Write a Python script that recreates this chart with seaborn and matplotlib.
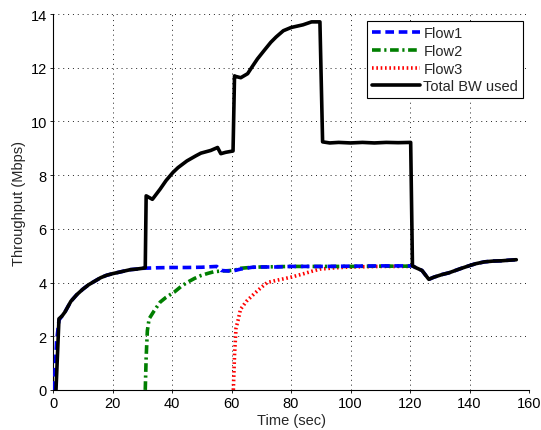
import matplotlib
matplotlib.use("Agg")
import matplotlib.pyplot as plt
import seaborn as sns
import pandas as pd

# Per-flow throughput samples (time in sec, throughput in Mbps)
flow1_t = [0.3, 0.8, 1.2, 2.0, 3, 4, 6, 8, 10, 12, 14, 16, 18, 20, 22, 24, 26, 28, 30,
           35, 40, 45, 50, 55, 56.5, 60, 63, 67, 70, 75, 80, 90, 100, 110, 120,
           120.8, 122, 124, 126.3, 128, 130.8, 133, 135, 137, 139.7, 142, 145, 148,
           150.8, 153, 155.7]
flow1_v = [0.0, 0.9, 1.8, 2.6, 2.75, 2.9, 3.3, 3.55, 3.75, 3.92, 4.05, 4.18, 4.27, 4.33,
           4.38, 4.43, 4.48, 4.5, 4.53,
           4.55, 4.56, 4.56, 4.57, 4.6, 4.45, 4.42, 4.5, 4.57, 4.58, 4.58, 4.6, 4.6,
           4.61, 4.62, 4.62,
           4.62, 4.55, 4.45, 4.12, 4.2, 4.3, 4.36, 4.44, 4.52, 4.62, 4.7, 4.77, 4.8,
           4.81, 4.83, 4.85]

flow2_t = [31.0, 31.3, 31.7, 32.3, 34, 36, 38, 40.7, 43, 45, 47.5, 49.7, 52, 54,
           56.5, 58.6, 61, 63, 65, 67.6, 70, 75, 80, 90, 100, 110, 120]
flow2_v = [0.0, 1.2, 2.2, 2.65, 2.95, 3.27, 3.45, 3.64, 3.85, 4.0, 4.15, 4.26, 4.34,
           4.4, 4.43, 4.44, 4.46, 4.53, 4.55, 4.57, 4.58, 4.59, 4.6, 4.6, 4.6, 4.61, 4.61]

flow3_t = [60.6, 61.0, 61.5, 62.2, 63, 65, 67.6, 70, 72, 75, 78, 80, 84, 87, 89.7,
           95, 100, 110, 120]
flow3_v = [0.0, 1.3, 2.3, 2.6, 3.0, 3.3, 3.58, 3.82, 4.0, 4.08, 4.15, 4.2, 4.32, 4.42,
           4.5, 4.55, 4.58, 4.6, 4.6]

total_t = [1.0, 2.0, 3, 4, 6, 8, 10, 12, 14, 16, 18, 20, 22, 24, 26, 28, 30, 31.0,
           31.3, 33.4, 36, 38, 40.3, 42, 45, 48, 49.7, 53, 55.3, 56.4, 58, 60.5,
           61.0, 61.3, 63.1, 65.4, 67, 68.7, 71, 73.2, 75, 77.4, 80, 82, 84, 86.9,
           89.7, 90.6, 93, 96, 100, 104, 108, 112, 116, 120.2,
           120.8, 122, 124, 126.3, 128, 130.8, 133, 135, 137, 139.7, 142, 145, 148,
           150.8, 153, 155.7]
total_v = [0.0, 2.65, 2.75, 2.9, 3.3, 3.55, 3.75, 3.92, 4.05, 4.18, 4.27, 4.33, 4.38,
           4.43, 4.48, 4.5, 4.53, 4.55,
           7.23, 7.1, 7.48, 7.8, 8.1, 8.28, 8.53, 8.72, 8.82, 8.92, 9.03, 8.8, 8.85, 8.9,
           11.7, 11.68, 11.63, 11.78, 12.05, 12.33, 12.65, 12.95, 13.15, 13.38, 13.5,
           13.55, 13.6, 13.71, 13.71,
           9.24, 9.2, 9.22, 9.2, 9.22, 9.2, 9.22, 9.21, 9.22,
           4.62, 4.55, 4.45, 4.12, 4.2, 4.3, 4.36, 4.44, 4.52, 4.62, 4.7, 4.77, 4.8,
           4.81, 4.83, 4.85]

x_ticks = [0, 20, 40, 60, 80, 100, 120, 140, 160]
y_ticks = [0, 2, 4, 6, 8, 10, 12, 14]

sns.set_style("white")
plt.rcParams["font.family"] = ["Liberation Sans", "DejaVu Sans"]
FS = 10.5

fig = plt.figure(figsize=(5.41, 4.31), dpi=100)
ax = fig.add_axes([0.098, 0.093, 0.880, 0.872])

series = [
    ("Flow1", flow1_t, flow1_v, dict(color="#0000ff", linestyle=(0, (2.4, 1.3)), zorder=4)),
    ("Flow2", flow2_t, flow2_v, dict(color="#007f00", linestyle=(0, (2.4, 1.0, 0.6, 1.0)), zorder=3)),
    ("Flow3", flow3_t, flow3_v, dict(color="#ff0000", linestyle=(0, (0.45, 0.75)), zorder=2)),
    ("Total BW used", total_t, total_v, dict(color="black", linestyle="-", zorder=5)),
]

for name, t, v, style in series:
    df = pd.DataFrame({"t": t, "v": v})
    sns.lineplot(data=df, x="t", y="v", ax=ax, label=name, linewidth=2.6,
                 estimator=None, sort=False, **style)

ax.set_xlim(0, 160)
ax.set_ylim(0, 14)
ax.set_xticks(x_ticks)
ax.set_yticks(y_ticks)
ax.tick_params(direction="out", length=2.5, width=0.6, labelsize=FS, pad=2,
               bottom=True, left=True, colors="black")
ax.grid(True, linestyle=(0, (1, 4)), color="#222222", linewidth=0.7)
for side in ["top", "right"]:
    ax.spines[side].set_visible(False)
for side in ["left", "bottom"]:
    ax.spines[side].set_color("black")
    ax.spines[side].set_linewidth(0.8)

ax.set_xlabel("Time (sec)", fontsize=FS, labelpad=2)
ax.set_ylabel("Throughput (Mbps)", fontsize=FS, labelpad=3)

leg = ax.legend(loc="upper right", bbox_to_anchor=(0.988, 0.981), fontsize=FS,
                frameon=True, fancybox=False, framealpha=1, edgecolor="black",
                handlelength=3.3, handletextpad=0.25, borderpad=0.35,
                labelspacing=0.25, borderaxespad=0.0)
leg.get_frame().set_linewidth(0.8)

fig.savefig("out.png", dpi=100)
